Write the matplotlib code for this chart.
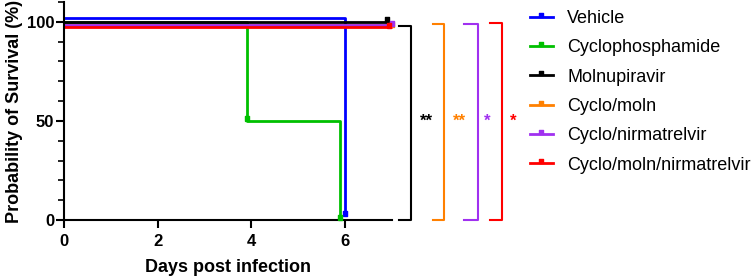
import matplotlib.pyplot as plt
from matplotlib.lines import Line2D
from matplotlib.path import Path
from matplotlib.ticker import MultipleLocator

plt.rcParams["font.family"] = ["Liberation Sans", "DejaVu Sans"]

# Kaplan-Meier step data (days, survival %), drawn with GraphPad-style offsets
groups = ["Vehicle", "Cyclophosphamide", "Molnupiravir", "Cyclo/moln",
          "Cyclo/nirmatrelvir", "Cyclo/moln/nirmatrelvir"]
colors = ["#0000FF", "#00C000", "#000000", "#FF8000", "#A030F0", "#FF0000"]
times = [[0, 6], [0, 3.9, 5.9], [0, 6.9], [0, 7], [0, 7], [0, 7]]
surv = [[102, 2], [100, 50, 0], [100, 100], [98.5, 98.5], [98.5, 98.5], [97.5, 97.5]]
end_marks = [[(6, 2)], [(3.9, 50), (5.9, 0)], [(6.9, 100)], [(7.0, 97.5)], [(7.0, 98)], [(6.95, 97)]]

# significance brackets: (x left, x right, y top, label, label x, colour)
brackets = [(7.16, 7.42, 98.0, "**", 7.74, "#000000"),
            (7.87, 8.12, 99.0, "**", 8.44, "#FF8000"),
            (8.55, 8.83, 99.0, "*", 9.04, "#A030F0"),
            (9.10, 9.36, 99.5, "*", 9.60, "#FF0000")]

# small square sitting on top of the line (censor tick)
tick_mark = Path([(-1, 0), (1, 0), (1, 2), (-1, 2), (-1, 0)])

fig = plt.figure(figsize=(7.52, 2.79), dpi=100)
ax = fig.add_axes([0.085, 0.2115, 0.436, 0.7815])

for t, s, c, marks in zip(times, surv, colors, end_marks):
    # build step path
    xs, ys = [t[0]], [s[0]]
    for i in range(1, len(t)):
        xs += [t[i], t[i]]
        ys += [s[i - 1], s[i]]
    ax.plot(xs, ys, color=c, linewidth=2, solid_capstyle="butt", clip_on=False)
    mx = [m[0] for m in marks]
    my = [m[1] for m in marks]
    ax.plot(mx, my, linestyle="none", marker=tick_mark, color=c, markersize=7,
            clip_on=False, zorder=4)

for x0, x1, ytop, lab, lx, c in brackets:
    ax.plot([x0, x1, x1, x0], [ytop, ytop, 0, 0], color=c, linewidth=1.5, clip_on=False)
    ax.text(lx, 50, lab, color=c, fontsize=12, fontweight="bold", ha="center", va="center")

ax.set_xlim(0, 7)
ax.set_ylim(0, 110)
ax.set_xticks([0, 2, 4, 6])
ax.set_yticks([0, 50, 100])
ax.yaxis.set_minor_locator(MultipleLocator(10))
ax.tick_params(width=1.5, length=6, labelsize=12)
ax.tick_params(axis="x", pad=4)
ax.tick_params(axis="y", pad=1)
ax.tick_params(axis="y", which="minor", width=1.2, length=4)
for lbl in ax.get_xticklabels() + ax.get_yticklabels():
    lbl.set_fontweight("bold")
ax.spines["top"].set_visible(False)
ax.spines["right"].set_visible(False)
ax.spines["left"].set_linewidth(1.5)
ax.spines["bottom"].set_linewidth(1.5)
ax.set_xlabel("Days post infection", fontsize=13, fontweight="bold", labelpad=7)
ax.set_ylabel("Probability of Survival (%)", fontsize=13, fontweight="bold", labelpad=3)

handles = [Line2D([0], [0], color=c, linewidth=2, marker=tick_mark, markersize=6) for c in colors]
fig.legend(handles, groups, loc="upper left", bbox_to_anchor=(0.683, 1.022), frameon=False,
           fontsize=13, handlelength=1.28, labelspacing=0.68, handletextpad=0.78)

fig.savefig("out.png", dpi=100)
